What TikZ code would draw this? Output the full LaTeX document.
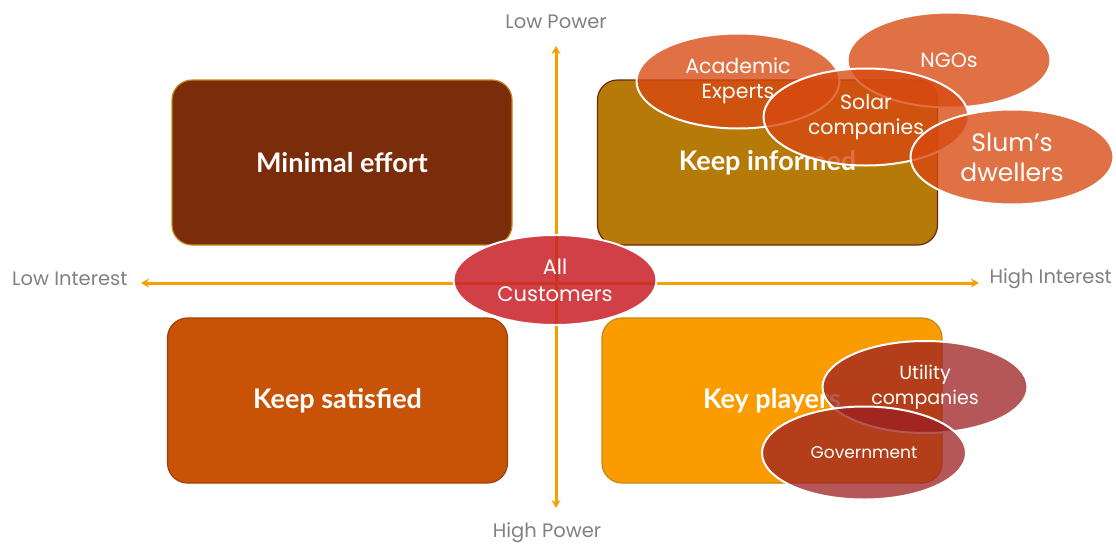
\documentclass[tikz,border=0pt]{standalone}
\usepackage{fontspec}
\setmainfont{Poppins}
\newfontfamily\boxfont{Lato}
\usetikzlibrary{shapes.geometric,arrows.meta}

\definecolor{axisorange}{RGB}{245,160,0}
\definecolor{axisgray}{RGB}{128,128,128}
\definecolor{minfill}{RGB}{123,44,10}
\definecolor{infofill}{RGB}{182,122,8}
\definecolor{satfill}{RGB}{200,82,6}
\definecolor{keyfill}{RGB}{250,155,0}
\definecolor{goldline}{RGB}{190,140,20}
\definecolor{brownline}{RGB}{110,40,10}
\definecolor{stakeorange}{RGB}{215,73,16}
\definecolor{stakered}{RGB}{156,31,34}
\definecolor{custred}{RGB}{200,31,38}

\tikzset{
  quad/.style={rectangle, rounded corners=20pt, line width=1.2pt,
    minimum width=340pt, minimum height=165pt, text=white,
    font=\boxfont\bfseries\fontsize{27}{30}\selectfont},
  axislabel/.style={text=axisgray, font=\fontsize{19.5}{22}\selectfont, inner sep=0pt},
  axisline/.style={draw=axisorange, line width=3pt,
    {Stealth[length=8pt,width=9pt]}-{Stealth[length=8pt,width=9pt]}},
  stake/.style={ellipse, draw=white, line width=2pt, fill opacity=0.78,
    text opacity=1, text=white, inner sep=0pt, align=center,
    minimum width=203pt, minimum height=95pt,
    font=\fontsize{20.5}{25}\selectfont},
  orangestake/.style={stake, fill=stakeorange},
  redstake/.style={stake, fill=stakered, fill opacity=0.75,
    font=\fontsize{19}{25}\selectfont},
}

\begin{document}
\begin{tikzpicture}[x=1pt,y=-1pt]
\useasboundingbox (0,0) rectangle (1116,544);

% power / interest axes
\coordinate (vtop) at (556,46);
\coordinate (vbot) at (556,508);
\coordinate (hleft) at (141,283);
\coordinate (hright) at (979,283);
\draw[axisline] (vtop) -- (vbot);
\draw[axisline] (hleft) -- (hright);

\node[axislabel] (lowpower) at (556,22) {Low Power};
\node[axislabel] (highpower) at (547,533) {High Power};
\node[axislabel, anchor=west] (lowint) at (12,279) {Low Interest};
\node[axislabel, anchor=east] (highint) at (1112,279) {High Interest};

% quadrants
\node[quad, fill=minfill, draw=goldline] (minimal) at (342,162.5) {Minimal effort};
\node[quad, fill=infofill, draw=brownline] (informed) at (767.5,162.5) {Keep informed};
\node[quad, fill=satfill, draw=satfill!80!black] (satisfied) at (337.5,400.5) {Keep satisfied};
\node[quad, fill=keyfill, draw=goldline] (keyplayers) at (772,400.5) {Key players};

% stakeholders
\node[stake, fill=custred, fill opacity=0.85, minimum width=203pt, minimum height=90pt,
  font=\fontsize{21}{27}\selectfont] (customers) at (555,280) {All\\Customers};

\node[orangestake] (academic) at (738,81) {Academic\\Experts};
\node[orangestake] (ngos) at (949,60) {NGOs};
\node[orangestake, minimum width=205pt, minimum height=97pt] (solar) at (866,117) {Solar\\companies};
\node[orangestake, font=\fontsize{25}{30}\selectfont] (slum) at (1012,157) {Slum’s\\dwellers};

\node[redstake, minimum width=205pt, minimum height=92pt] (utility) at (925,387) {Utility\\companies};
\node[redstake, minimum width=204pt, minimum height=93pt,
  font=\fontsize{17}{20}\selectfont] (government) at (864,453) {Government};
\end{tikzpicture}
\end{document}
